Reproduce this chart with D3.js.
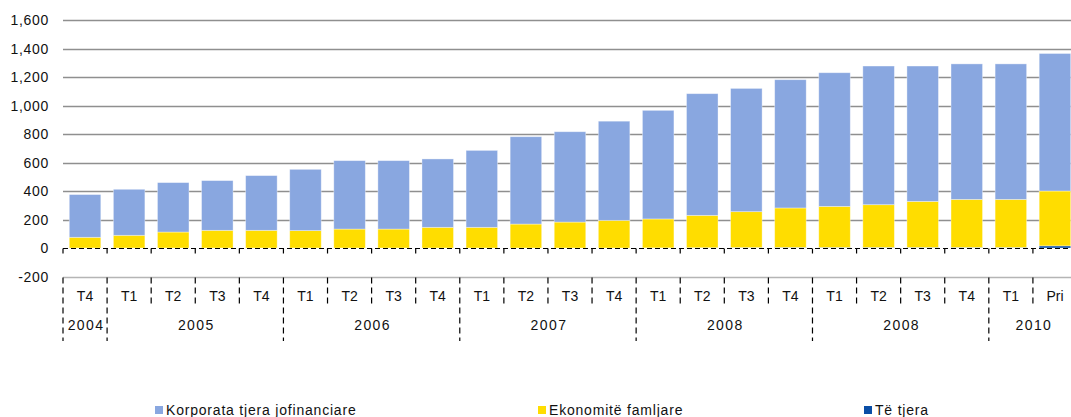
<!DOCTYPE html>
<html>
<head>
<meta charset="utf-8">
<script src="https://cdn.jsdelivr.net/npm/d3@7"></script>
<style>
  body { margin: 0; background: #fff; }
  text { font-family: "Liberation Sans", Arial, sans-serif; font-size: 14px; fill: #111; }
</style>
</head>
<body>
<svg id="chart" width="1071" height="417"></svg>
<script>
// quarters on the category axis
var quarters = ['T4', 'T1', 'T2', 'T3', 'T4', 'T1', 'T2', 'T3', 'T4', 'T1', 'T2', 'T3', 'T4',
                'T1', 'T2', 'T3', 'T4', 'T1', 'T2', 'T3', 'T4', 'T1', 'Pri'];
// year groups: label, first index, index after last
var years = [
    ['2004', 0, 1], ['2005', 1, 5], ['2006', 5, 9], ['2007', 9, 13],
    ['2008', 13, 17], ['2008', 17, 21], ['2010', 21, 23],
];
// series values
var tjera = [0, 0, 0, 0, 0, 0, 0, 0, 0, 0, 0, 0, 0, 1, 2, 3, 4, 4, 4, 4, 4, 4, 15];
var familjare = [75, 89, 112, 124, 124, 122, 133, 133, 145, 145, 168, 182, 194,
                 203, 227, 252, 277, 288, 300, 323, 337, 337, 385];
var korporata = [300, 323, 347, 349, 384, 430, 480, 480, 480, 540, 613, 634, 696,
                 762, 854, 865, 900, 938, 973, 950, 951, 951, 965];
var yTicks = [-200, 0, 200, 400, 600, 800, 1000, 1200, 1400, 1600];

var series = [
    { key: 'tjera', name: 'Të tjera', color: '#0a4ea6', values: tjera },
    { key: 'familjare', name: 'Ekonomitë famljare', color: '#ffdd00', values: familjare },
    { key: 'korporata', name: 'Korporata tjera jofinanciare', color: '#89a7e0', values: korporata },
];

var rows = quarters.map((q, i) => {
    var r = { i: i };
    series.forEach((s) => { r[s.key] = s.values[i]; });
    return r;
});

var svg = d3.select('#chart');
var left = 63, right = 1071;

var x = d3.scaleBand().domain(d3.range(quarters.length)).range([left, 1077]).paddingInner(0.285).paddingOuter(0.1425);
var y = d3.scaleLinear().domain([-200, 1600]).range([276.5, 20]);
var step = x.step();
var bx = (i) => left + i * step; // category boundary

// gridlines
svg.append('g')
  .selectAll('line')
  .data(yTicks)
  .join('line')
    .attr('x1', left).attr('x2', right)
    .attr('y1', (d) => Math.round(y(d)) + 0.5).attr('y2', (d) => Math.round(y(d)) + 0.5)
    .attr('stroke', (d) => (d === -200 ? '#b5b5b5' : '#8f8f8f'))
    .attr('stroke-width', (d) => (d === 0 ? 0 : 1.4));

// y labels (plain hyphen for negatives, as in Excel)
svg.append('g')
  .selectAll('text')
  .data(yTicks)
  .join('text')
    .attr('x', 49)
    .attr('y', (d) => y(d) + 5)
    .attr('text-anchor', 'end')
    .attr('letter-spacing', 0.7)
    .text((d) => d3.format(',')(d).replace('\u2212', '-'));

// stacked bars
var stacked = d3.stack().keys(series.map((s) => s.key))(rows);
svg.append('g')
  .selectAll('g')
  .data(stacked)
  .join('g')
    .attr('fill', (d, k) => series[k].color)
  .selectAll('rect')
  .data((d) => d)
  .join('rect')
    .attr('x', (d) => x(d.data.i))
    .attr('width', x.bandwidth())
    .attr('y', (d) => y(d[1]))
    .attr('height', (d) => Math.max(0, y(d[0]) - y(d[1])))
    .attr('stroke', '#ffffff')
    .attr('stroke-opacity', 0.45)
    .attr('stroke-width', 0.8);

// dashed zero line with small ticks
var y0 = Math.round(y(0)) + 0.5;
svg.append('line')
    .attr('x1', left).attr('x2', right)
    .attr('y1', y0).attr('y2', y0)
    .attr('stroke', '#000').attr('stroke-width', 1.2)
    .attr('stroke-dasharray', '5,3');
svg.append('g')
  .selectAll('line')
  .data(d3.range(quarters.length + 1))
  .join('line')
    .attr('x1', (i) => bx(i)).attr('x2', (i) => bx(i))
    .attr('y1', y0).attr('y2', y0 + 5)
    .attr('stroke', '#000').attr('stroke-width', 1.2);

// category axis separators below the plot
var yb = Math.round(y(-200)) + 0.5;
var yearStarts = years.map((d) => d[1]);
svg.append('g')
  .selectAll('line')
  .data(d3.range(quarters.length))
  .join('line')
    .attr('x1', (i) => bx(i)).attr('x2', (i) => bx(i))
    .attr('y1', yb).attr('y2', (i) => (yearStarts.indexOf(i) >= 0 ? 341 : 307))
    .attr('stroke', '#000').attr('stroke-width', 1.2)
    .attr('stroke-dasharray', '6,4');

// quarter labels
svg.append('g')
  .selectAll('text')
  .data(quarters)
  .join('text')
    .attr('x', (d, i) => x(i) + x.bandwidth() / 2)
    .attr('y', 301)
    .attr('text-anchor', 'middle')
    .text((d) => d);

// year labels
svg.append('g')
  .selectAll('text')
  .data(years)
  .join('text')
    .attr('x', (d) => (bx(d[1]) + bx(d[2])) / 2 + 1)
    .attr('y', 330)
    .attr('text-anchor', 'middle')
    .attr('letter-spacing', 1.4)
    .text((d) => d[0]);

// legend
var legendX = { korporata: 155, familjare: 538, tjera: 864 };
var legend = svg.append('g')
  .selectAll('g')
  .data(series.slice().reverse())
  .join('g')
    .attr('transform', (d) => `translate(${legendX[d.key]},406)`);
legend.append('rect')
    .attr('width', 8).attr('height', 8)
    .attr('fill', (d) => d.color);
legend.append('text')
    .attr('x', 11).attr('y', 8.5)
    .attr('letter-spacing', 0.8)
    .text((d) => d.name);
</script>
</body>
</html>
